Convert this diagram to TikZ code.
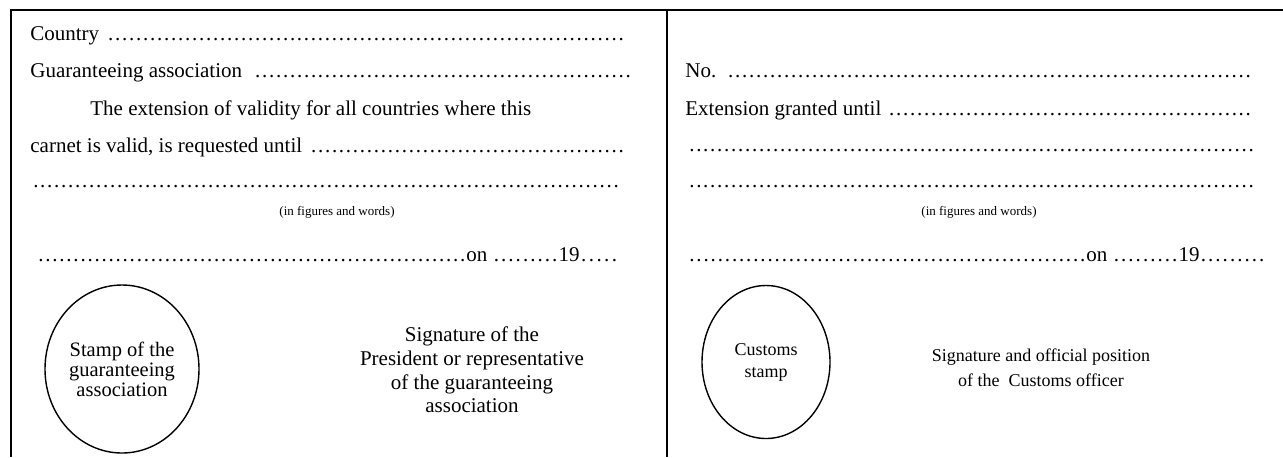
\documentclass[tikz,border=0pt]{standalone}
\usepackage{fontspec}
\setmainfont{Liberation Serif}
\usetikzlibrary{shapes.geometric}
\newcommand\dotrun[1]{\xleaders\hbox to 0.333em{\hss.\hss}\hskip #1\relax}
\newcommand\fillrow[2]{\makebox[#1][l]{#2\leaders\hbox to 0.333em{\hss.\hss}\hfill}}

\begin{document}
\begin{tikzpicture}[x=0.5pt, y=-0.5pt,
  rowtxt/.style={anchor=base west, inner sep=0pt, font=\fontsize{10.5}{12.5}\selectfont},
  note/.style={anchor=base, inner sep=0pt, font=\fontsize{6.5}{7.5}\selectfont},
  stamp/.style={ellipse, draw, line width=0.7pt, align=center, inner sep=0pt},
  sign/.style={align=center, inner sep=0pt},
  frame/.style={line width=1pt}
]
  \useasboundingbox (0,0) rectangle (1283,457);
  % form frame
  \draw[frame] (10,10) -- (1283,10);
  \draw[frame] (11,10) -- (11,457);
  \draw[frame] (667,10) -- (667,457);

  % left half: request of the association
  \node[rowtxt](country) at (30,40)  {\fillrow{298.5pt}{Country }};
  \node[rowtxt](assoc)   at (30,77)  {\fillrow{301pt}{Guaranteeing association }};
  \node[rowtxt](ext)     at (90,115) {The extension of validity for all countries where this};
  \node[rowtxt](carnet)  at (30,152) {\fillrow{298.5pt}{carnet is valid, is requested until }};
  \node[rowtxt](dotsL)   at (32,187) {\fillrow{296.5pt}{}};
  \node[note](figL)      at (337,215) {(in figures and words)};
  \node[rowtxt](dateL)   at (37,261) {\dotrun{214.5pt}on \dotrun{33pt}19\dotrun{19.5pt}\null};
  \node[stamp, minimum width=77pt, minimum height=84pt,
        font=\fontsize{10.25}{10}\selectfont](stampL) at (122,369)
        {Stamp of the\\guaranteeing\\association};
  \node[sign, font=\fontsize{10.5}{11.85}\selectfont](signL) at (472,370)
        {Signature of the\\President or representative\\of the guaranteeing\\association};

  % right half: customs
  \node[rowtxt](num)     at (685,77)  {\fillrow{284pt}{No. }};
  \node[rowtxt](granted) at (685,115) {\fillrow{286pt}{Extension granted until }};
  \node[rowtxt](dotsA)   at (688,151) {\fillrow{286pt}{}};
  \node[rowtxt](dotsB)   at (688,187) {\fillrow{286pt}{}};
  \node[note](figR)      at (979,215) {(in figures and words)};
  \node[rowtxt](dateR)   at (688,261) {\dotrun{199pt}on \dotrun{33pt}19\dotrun{33pt}\null};
  \node[stamp, minimum width=64pt, minimum height=76.5pt,
        font=\fontsize{9}{11}\selectfont](stampR) at (766,362)
        {Customs\\stamp};
  \node[sign, font=\fontsize{9}{12.5}\selectfont](signR) at (1041,368)
        {Signature and official position\\of the\ \ Customs officer};
\end{tikzpicture}
\end{document}
